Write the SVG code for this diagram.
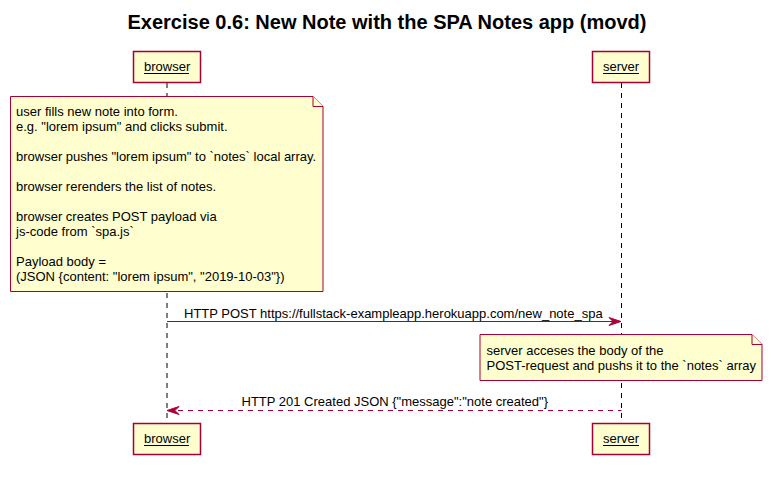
<svg xmlns="http://www.w3.org/2000/svg" width="771" height="478" viewBox="0 0 771 478">
<style>
.t{font-family:"Liberation Sans",Arial,sans-serif;font-size:13px;fill:#000}
.p{fill:#FEFECE;stroke:#A80036;stroke-width:1.5}
.n{fill:#FEFECE;stroke:#A80036;stroke-width:1}
.life{stroke:#000;stroke-width:1;stroke-dasharray:5,5;fill:none}
.msg{stroke:#A80036;stroke-width:1;fill:none}
.ah{fill:#A80036;stroke:#A80036;stroke-width:1}
</style>
<rect width="771" height="478" fill="#FFFFFF"/>
<text x="387" y="29" text-anchor="middle" style="font-family:'Liberation Sans',Arial,sans-serif;font-size:20px;font-weight:bold">Exercise 0.6: New Note with the SPA Notes app (movd)</text>
<g id="lifelines">
<line class="life" x1="167" y1="83" x2="167" y2="423"/>
<line class="life" x1="621.5" y1="83" x2="621.5" y2="423"/>
</g>
<g id="browser-top">
<rect class="p" x="133.5" y="51.5" width="67" height="31"/>
<text class="t" x="144" y="71">browser</text>
<line x1="144" y1="73.5" x2="189" y2="73.5" stroke="#000" stroke-width="1"/>
</g>
<g id="server-top">
<rect class="p" x="592.5" y="51.5" width="57" height="31"/>
<text class="t" x="603" y="71">server</text>
<line x1="603" y1="73.5" x2="639" y2="73.5" stroke="#000" stroke-width="1"/>
</g>
<g id="browser-bottom">
<rect class="p" x="133.5" y="423.5" width="67" height="31"/>
<text class="t" x="144" y="443">browser</text>
<line x1="144" y1="445.5" x2="189" y2="445.5" stroke="#000" stroke-width="1"/>
</g>
<g id="server-bottom">
<rect class="p" x="592.5" y="423.5" width="57" height="31"/>
<text class="t" x="603" y="443">server</text>
<line x1="603" y1="445.5" x2="639" y2="445.5" stroke="#000" stroke-width="1"/>
</g>
<g id="note-browser">
<path class="n" d="M10.5,96.5 L313,96.5 L323,106.5 L323,291.5 L10.5,291.5 Z"/>
<path class="n" d="M313,96.5 L313,106.5 L323,106.5"/>
<text class="t" x="16" y="116">user fills new note into form.</text>
<text class="t" x="16" y="131">e.g. "lorem ipsum" and clicks submit.</text>
<text class="t" x="16" y="161">browser pushes "lorem ipsum" to `notes` local array.</text>
<text class="t" x="16" y="191">browser rerenders the list of notes.</text>
<text class="t" x="16" y="221">browser creates POST payload via</text>
<text class="t" x="16" y="236">js-code from `spa.js`</text>
<text class="t" x="16" y="266">Payload body =</text>
<text class="t" x="16" y="281">(JSON {content: "lorem ipsum", "2019-10-03"})</text>
</g>
<g id="note-server">
<path class="n" d="M480,334.5 L752,334.5 L762,344.5 L762,380.5 L480,380.5 Z"/>
<path class="n" d="M752,334.5 L752,344.5 L762,344.5"/>
<text class="t" x="486.5" y="355">server acceses the body of the</text>
<text class="t" x="486.5" y="370">POST-request and pushs it to the `notes` array</text>
</g>
<g id="connectors">
<line class="msg" x1="167" y1="321.5" x2="620" y2="321.5"/>
<polygon class="ah" points="609,317.5 621,321.5 609,325.5 613,321.5"/>
<text class="t" x="184" y="317.5">HTTP POST https://fullstack-exampleapp.herokuapp.com/new_note_spa</text>
<line class="msg" x1="168" y1="410.5" x2="621.5" y2="410.5" stroke-dasharray="5,5"/>
<polygon class="ah" points="179,406.5 167,410.5 179,414.5 175,410.5"/>
<text class="t" x="241.5" y="405.5">HTTP 201 Created JSON {"message":"note created"}</text>
</g>
</svg>
